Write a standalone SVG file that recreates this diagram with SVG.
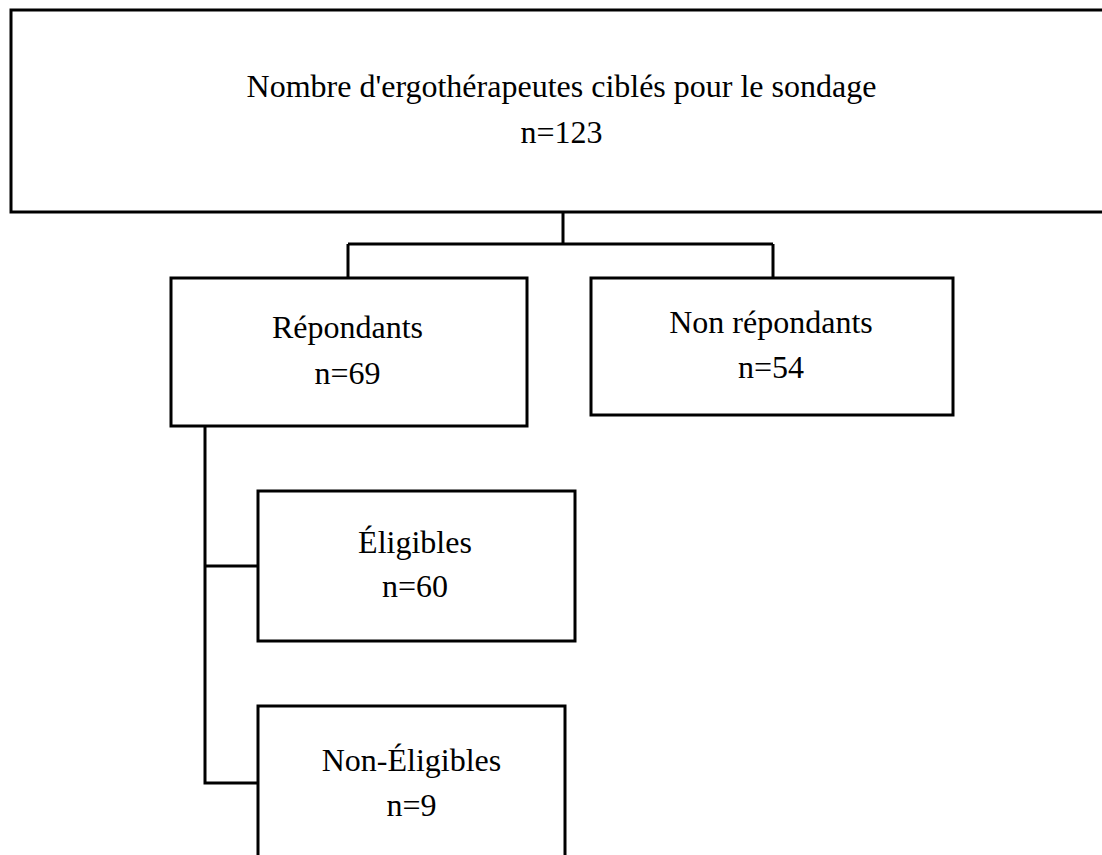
<svg xmlns="http://www.w3.org/2000/svg" width="1102" height="855" viewBox="0 0 1102 855">
<style>
.box{fill:#fff;stroke:#000;stroke-width:3}
.t{font-family:"Liberation Serif","Times New Roman",serif;font-size:32px;fill:#000;text-anchor:middle}
.c{fill:none;stroke:#000;stroke-width:3}
</style>
<rect width="1102" height="855" fill="#fff"/>
<g id="connectors">
<path class="c" d="M563,212 V244 M348,244 H773 M348,244 V278 M773,244 V278"/>
<path class="c" d="M205,426 V783 H258 M205,566 H258"/>
</g>
<g id="n-cibles">
<rect class="box" x="11" y="10" width="1100" height="202"/>
<text class="t" x="561.5" y="97">Nombre d'ergothérapeutes ciblés pour le sondage</text>
<text class="t" x="561.5" y="143">n=123</text>
</g>
<g id="n-repondants">
<rect class="box" x="171" y="278" width="356" height="148"/>
<text class="t" x="347.5" y="338">Répondants</text>
<text class="t" x="347.5" y="384">n=69</text>
</g>
<g id="n-nonrepondants">
<rect class="box" x="591" y="278" width="362" height="137"/>
<text class="t" x="771" y="333">Non répondants</text>
<text class="t" x="771" y="378">n=54</text>
</g>
<g id="n-eligibles">
<rect class="box" x="258" y="491" width="317" height="150"/>
<text class="t" x="415" y="553">Éligibles</text>
<text class="t" x="415" y="597">n=60</text>
</g>
<g id="n-noneligibles">
<rect class="box" x="258" y="706" width="307" height="160"/>
<text class="t" x="411.5" y="771">Non-Éligibles</text>
<text class="t" x="411.5" y="816">n=9</text>
</g>
</svg>
